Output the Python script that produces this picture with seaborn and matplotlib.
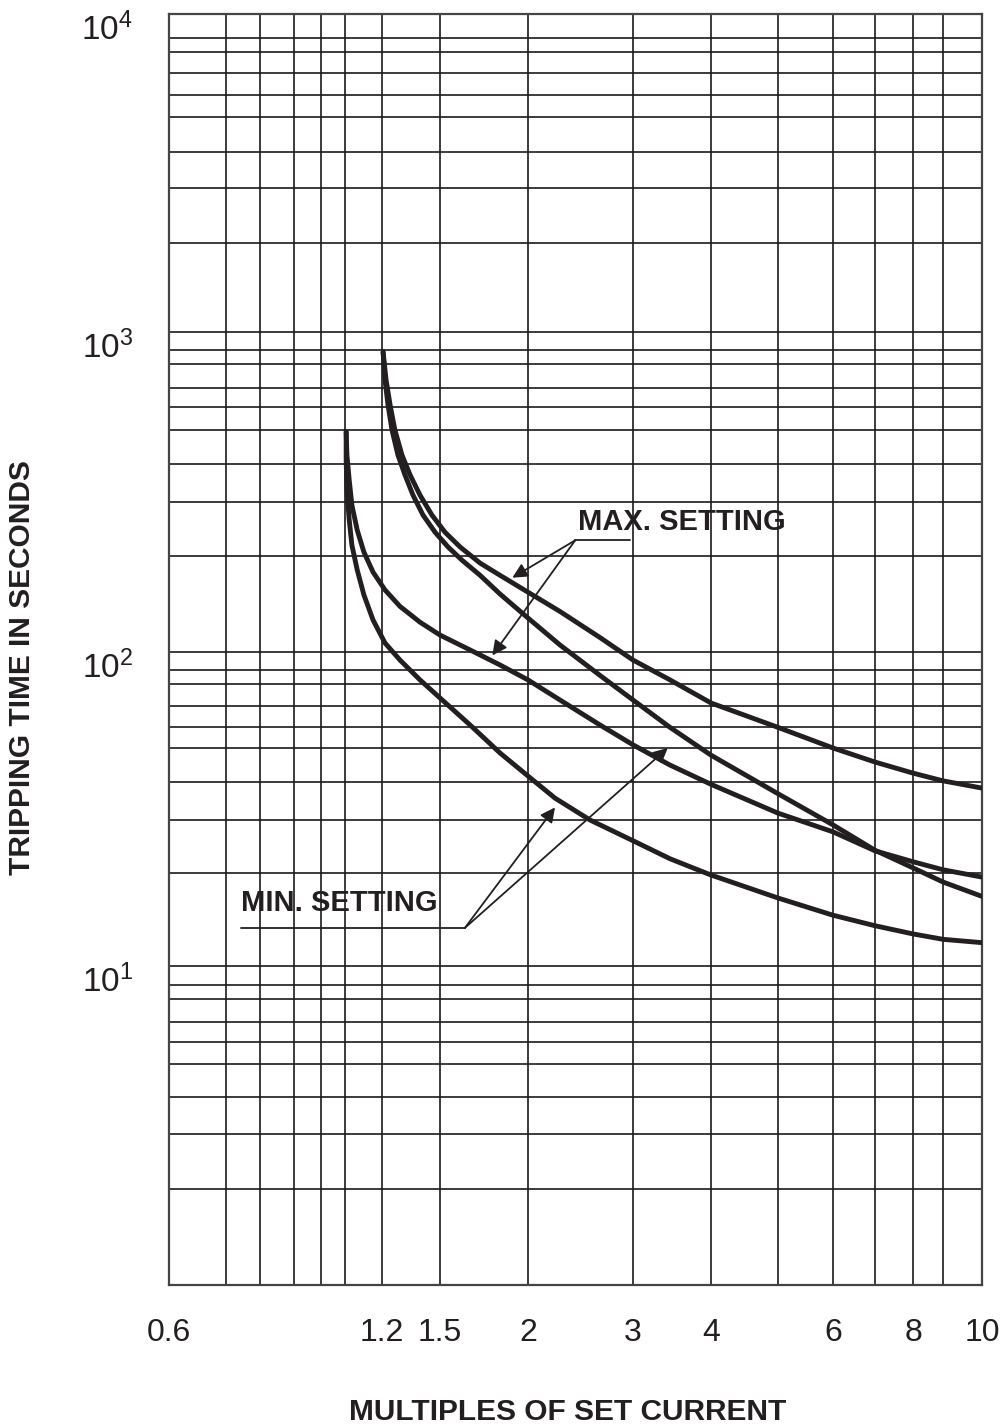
import numpy as np
import pandas as pd
import matplotlib
matplotlib.use("Agg")
import matplotlib.pyplot as plt
import matplotlib.transforms as mtransforms
import seaborn as sns

# ---------------- data ----------------
# MAX. SETTING curves
MAX1_X = [1.205, 1.219, 1.238, 1.261, 1.296, 1.337, 1.389, 1.454, 1.525, 1.602, 1.71, 1.825,
          2.0, 2.263, 2.641, 3.0, 3.439, 4.0, 5.0, 6.0, 7.0, 8.0, 9.0, 10.0]
MAX1_Y = [885, 732, 610, 500, 424, 368, 316, 272, 239, 214, 190, 174,
          154, 134, 111, 95.4, 82.8, 71.3, 59.8, 50, 45.6, 42.4, 40.3, 38.2]
MAX2_X = [1.103, 1.105, 1.111, 1.118, 1.132, 1.150, 1.175, 1.214, 1.286, 1.389, 1.5, 1.655,
          1.825, 2.0, 2.263, 2.641, 3.0, 3.439, 4.0, 5.0, 6.0, 7.0, 8.0, 9.0, 10.0]
MAX2_Y = [494, 424, 354, 293, 243, 206, 178, 156.5, 139, 124, 113, 101.5,
          92.7, 82.8, 72.6, 60.9, 51.4, 44.7, 39.3, 31.6, 27.4, 23.7, 21.8, 20.5, 19.4]
# MIN. SETTING curves
MIN1_X = [1.205, 1.214, 1.228, 1.247, 1.276, 1.311, 1.352, 1.405, 1.472, 1.54, 1.612, 1.71,
          1.825, 2.0, 2.263, 2.641, 3.0, 3.439, 4.0, 5.0, 6.0, 7.0, 8.0, 9.0, 10.0]
MIN1_Y = [885, 732, 610, 500, 424, 368, 316, 272, 239, 214, 194, 174,
          152, 127.8, 105.2, 86.0, 72.6, 59.8, 47.7, 36.6, 28.9, 23.8, 20.8, 18.7, 16.8]
MIN2_X = [1.103, 1.103, 1.105, 1.111, 1.118, 1.132, 1.150, 1.175, 1.214, 1.286, 1.389, 1.5,
          1.655, 1.825, 2.0, 2.22, 2.541, 3.0, 3.439, 4.0, 5.0, 6.0, 7.0, 8.0, 9.0, 10.0]
MIN2_Y = [494, 411, 329, 262, 217, 181, 151, 126, 106.7, 95.4, 82.8, 73.5,
          60.9, 48.4, 41.6, 35.4, 30.0, 25.6, 22.3, 19.7, 16.6, 14.6, 13.5, 12.7, 12.2, 11.9]

X_TICKS = [0.6, 1.2, 1.5, 2, 3, 4, 6, 8, 10]
X_TICK_LABELS = ["0.6", "1.2", "1.5", "2", "3", "4", "6", "8", "10"]
Y_TICKS = [10, 100, 1000, 10000]
Y_TICK_LABELS = [r"$10^{1}$", r"$10^{2}$", r"$10^{3}$", r"$10^{4}$"]

X_LABEL = "MULTIPLES OF SET CURRENT"
Y_LABEL = "TRIPPING TIME IN SECONDS"

# ---------------- the hand-ruled log paper ----------------
# grid values and their measured position along the ruled sheet
X_GRID = [0.6, 0.7, 0.8, 0.9, 1.0, 1.1, 1.2, 1.5, 2, 3, 4, 5, 6, 7, 8, 9, 10]
X_RULE = np.array([169, 226, 260, 294, 321, 345, 382, 440, 528, 633, 711, 778, 833, 875, 913, 943, 982], float)
Y_GRID = [1, 2, 3, 4, 5, 6, 7, 8, 9,
          10, 20, 30, 40, 50, 60, 70, 80, 90,
          100, 200, 300, 400, 500, 600, 700, 800, 900,
          1000, 2000, 3000, 4000, 5000, 6000, 7000, 8000, 9000, 10000]
Y_RULE = np.array([1285, 1189, 1134, 1097, 1064, 1042, 1022, 999, 985,
                   966, 873, 820, 782, 748, 727, 706, 684, 670,
                   652, 556, 502, 464, 430, 407, 388, 364, 350,
                   332, 243, 188, 152, 117, 95, 73, 52, 38, 14], float)
X_RULE = (X_RULE - X_RULE[0]) / (X_RULE[-1] - X_RULE[0])
Y_RULE = (Y_RULE[0] - Y_RULE) / (Y_RULE[0] - Y_RULE[-1])


def ruled_scale(grid, rule):
    lg = np.log10(np.asarray(grid, float))
    p = np.asarray(rule, float)
    s0 = (p[1] - p[0]) / (lg[1] - lg[0])
    s1 = (p[-1] - p[-2]) / (lg[-1] - lg[-2])

    def fwd(v):
        v = np.asarray(v, float)
        with np.errstate(divide="ignore", invalid="ignore"):
            l = np.log10(np.where(v > 0, v, np.nan))
        out = np.interp(l, lg, p)
        out = np.where(l < lg[0], p[0] + (l - lg[0]) * s0, out)
        out = np.where(l > lg[-1], p[-1] + (l - lg[-1]) * s1, out)
        return out

    def inv(q):
        q = np.asarray(q, float)
        l = np.interp(q, p, lg)
        l = np.where(q < p[0], lg[0] + (q - p[0]) / s0, l)
        l = np.where(q > p[-1], lg[-1] + (q - p[-1]) / s1, l)
        return 10 ** l

    return fwd, inv


# ---------------- build long-form table ----------------
frames = []
for name, xs, ys in [("max1", MAX1_X, MAX1_Y), ("max2", MAX2_X, MAX2_Y),
                     ("min1", MIN1_X, MIN1_Y), ("min2", MIN2_X, MIN2_Y)]:
    frames.append(pd.DataFrame({"x": xs, "y": ys, "curve": name}))
df = pd.concat(frames, ignore_index=True)

sns.set_style("white")
plt.rcParams["font.family"] = ["Liberation Sans", "DejaVu Sans"]
plt.rcParams["mathtext.default"] = "regular"

INK = "#231f20"

fig = plt.figure(figsize=(10.05, 14.25), dpi=100)
ax = fig.add_axes([169 / 1005, 1 - 1285 / 1425, (982 - 169) / 1005, (1285 - 14) / 1425])

fx, ix = ruled_scale(X_GRID, X_RULE)
fy, iy = ruled_scale(Y_GRID, Y_RULE)
ax.set_xscale("function", functions=(fx, ix))
ax.set_yscale("function", functions=(fy, iy))

sns.lineplot(data=df, x="x", y="y", units="curve", estimator=None, sort=False,
             color=INK, lw=3.5, ax=ax, legend=False, zorder=3)
for ln in ax.get_lines():
    ln.set_solid_joinstyle("round")

ax.set_xlim(0.6, 10)
ax.set_ylim(1, 10000)

ax.xaxis.remove_overlapping_locs = False
ax.yaxis.remove_overlapping_locs = False
ax.set_xticks(X_TICKS, X_TICK_LABELS)
ax.set_yticks(Y_TICKS, Y_TICK_LABELS)
ax.set_xticks(X_GRID, minor=True)
ax.set_yticks(Y_GRID, minor=True)
ax.tick_params(which="both", length=0)
ax.tick_params(axis="x", which="major", labelsize=23, pad=24, colors=INK)
ax.tick_params(axis="y", which="major", labelsize=24, pad=26, colors=INK)
ax.grid(False, which="major")
ax.grid(True, which="minor", color="#1a1a1a", lw=1.2)
ax.set_axisbelow(True)
shift = mtransforms.ScaledTranslation(0, -12 / 100, fig.dpi_scale_trans)
for lab in ax.get_yticklabels():
    lab.set_transform(lab.get_transform() + shift)
for sp in ax.spines.values():
    sp.set_color("#444444")
    sp.set_linewidth(1.6)
ax.set_xlabel("")
ax.set_ylabel("")

# ---------------- annotations ----------------
arrow = dict(arrowstyle="-|>", color=INK, lw=1.3, mutation_scale=22, shrinkA=0, shrinkB=0)
ax.text(2.425, 258, "MAX. SETTING", fontsize=21, fontweight="bold", color=INK,
        ha="left", va="center")
ax.plot([2.40, 2.965], [225, 225], color=INK, lw=1.3)
ax.annotate("", xy=(1.9, 171), xytext=(2.40, 225), arrowprops=arrow)
ax.annotate("", xy=(1.78, 98), xytext=(2.40, 225), arrowprops=arrow)

ax.text(0.742, 16.0, "MIN. SETTING", fontsize=21, fontweight="bold", color=INK,
        ha="left", va="center")
ax.plot([0.742, 1.627], [13.28, 13.28], color=INK, lw=1.3)
ax.annotate("", xy=(2.22, 33), xytext=(1.627, 13.28), arrowprops=arrow)
ax.annotate("", xy=(3.41, 50), xytext=(1.627, 13.28), arrowprops=arrow)

fig.text(568 / 1005, 1 - 1412 / 1425, X_LABEL, fontsize=21.5, fontweight="bold",
         ha="center", va="center", color=INK)
fig.text(22 / 1005, 1 - 668 / 1425, Y_LABEL, fontsize=21.5, fontweight="bold",
         ha="center", va="center", rotation=90, color=INK)

fig.savefig("out.png", dpi=100)
